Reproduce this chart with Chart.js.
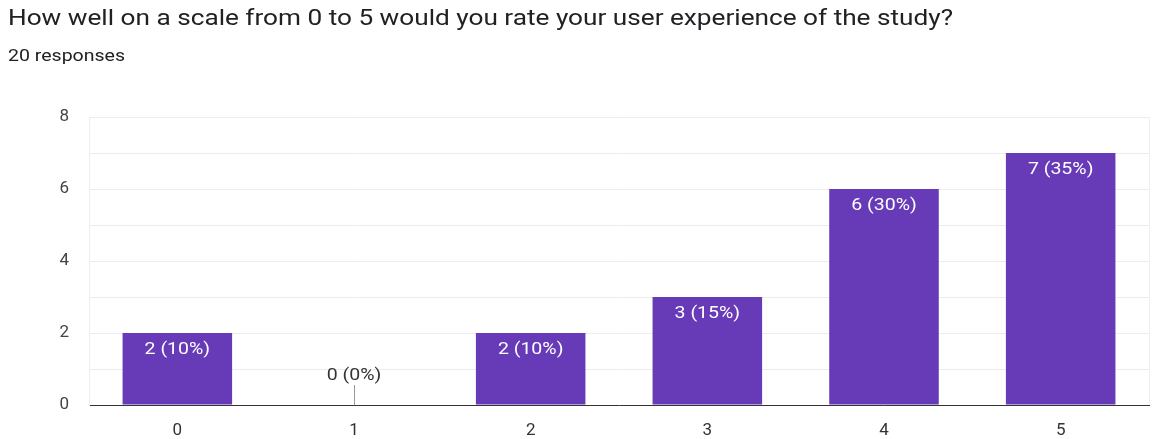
<!DOCTYPE html>
<html>
<head>
<meta charset="utf-8">
<script src="https://cdn.jsdelivr.net/npm/chart.js@4/dist/chart.umd.min.js"></script>
<style>
  html, body { margin: 0; padding: 0; background: #fff; }
  body { width: 1152px; height: 439px; position: relative; overflow: hidden; font-family: Roboto, Arial, sans-serif; }
  #title { position: absolute; left: 8px; top: 5px; font-size: 22px; color: #202124; white-space: nowrap; transform: scaleX(1.19); transform-origin: left top; }
  #sub { position: absolute; left: 8px; top: 46px; font-size: 16px; color: #202124; white-space: nowrap; transform: scaleX(1.22); transform-origin: left top; }
  #chart { position: absolute; left: 0; top: 0; }
</style>
</head>
<body>
<canvas id="chart" width="1152" height="439"></canvas>
<div id="title">How well on a scale from 0 to 5 would you rate your user experience of the study?</div>
<div id="sub">20 responses</div>
<script>
const ratings = ["0", "1", "2", "3", "4", "5"];
const counts = [2, 0, 2, 3, 6, 7];
const yTicks = [0, 2, 4, 6, 8];

const total = counts.reduce((a, b) => a + b, 0);

// value labels: white inside the bar top, dark with a stem for empty bars
const barLabels = {
  id: "barLabels",
  afterDatasetsDraw(chart) {
    const ctx = chart.ctx;
    const meta = chart.getDatasetMeta(0);
    const area = chart.chartArea;
    ctx.save();
    ctx.font = "16px Roboto, Arial, sans-serif";
    ctx.textAlign = "center";
    ctx.textBaseline = "middle";
    meta.data.forEach((bar, i) => {
      const v = counts[i];
      const text = v + " (" + Math.round(v / total * 100) + "%)";
      let ty;
      if (v === 0) {
        ctx.strokeStyle = "#999";
        ctx.lineWidth = 1;
        ctx.beginPath();
        ctx.moveTo(Math.round(bar.x) + 0.5, bar.y);
        ctx.lineTo(Math.round(bar.x) + 0.5, bar.y - 20);
        ctx.stroke();
        ctx.fillStyle = "#333";
        ty = bar.y - 29;
      } else {
        ctx.fillStyle = "#fff";
        ty = bar.y + 17;
      }
      ctx.save();
      ctx.translate(bar.x, ty);
      ctx.scale(1.22, 1);
      ctx.fillText(text, 0, 0);
      ctx.restore();
    });
    // right edge of the plot
    ctx.strokeStyle = "#eeeeee";
    ctx.lineWidth = 1;
    ctx.beginPath();
    ctx.moveTo(area.right + 0.5, area.top);
    ctx.lineTo(area.right + 0.5, area.bottom);
    ctx.stroke();
    ctx.restore();
  }
};

new Chart(document.getElementById("chart"), {
  type: "bar",
  data: {
    labels: ratings,
    datasets: [{
      data: counts,
      backgroundColor: "#673ab7",
      borderWidth: 0,
      categoryPercentage: 1,
      barPercentage: 0.62
    }]
  },
  options: {
    responsive: false,
    animation: false,
    maintainAspectRatio: false,
    layout: { padding: { top: 117, right: 3, left: 0, bottom: 0 } },
    plugins: { legend: { display: false }, tooltip: { enabled: false } },
    scales: {
      x: {
        grid: { display: false },
        border: { color: "#333", width: 1 },
        ticks: { color: "#333", font: { family: "Roboto", size: 17 }, padding: 8 },
        afterFit(scale) { scale.height = 34; }
      },
      y: {
        min: 0,
        max: 8,
        grid: { color: "#ececec", drawTicks: false },
        border: { color: "#eeeeee" },
        ticks: {
          stepSize: 1,
          padding: 20,
          color: "#444",
          font: { family: "Roboto", size: 17 },
          callback: v => yTicks.includes(v) ? String(v) : ""
        },
        afterFit(scale) { scale.width = 89; }
      }
    }
  },
  plugins: [barLabels]
});
</script>
</body>
</html>
